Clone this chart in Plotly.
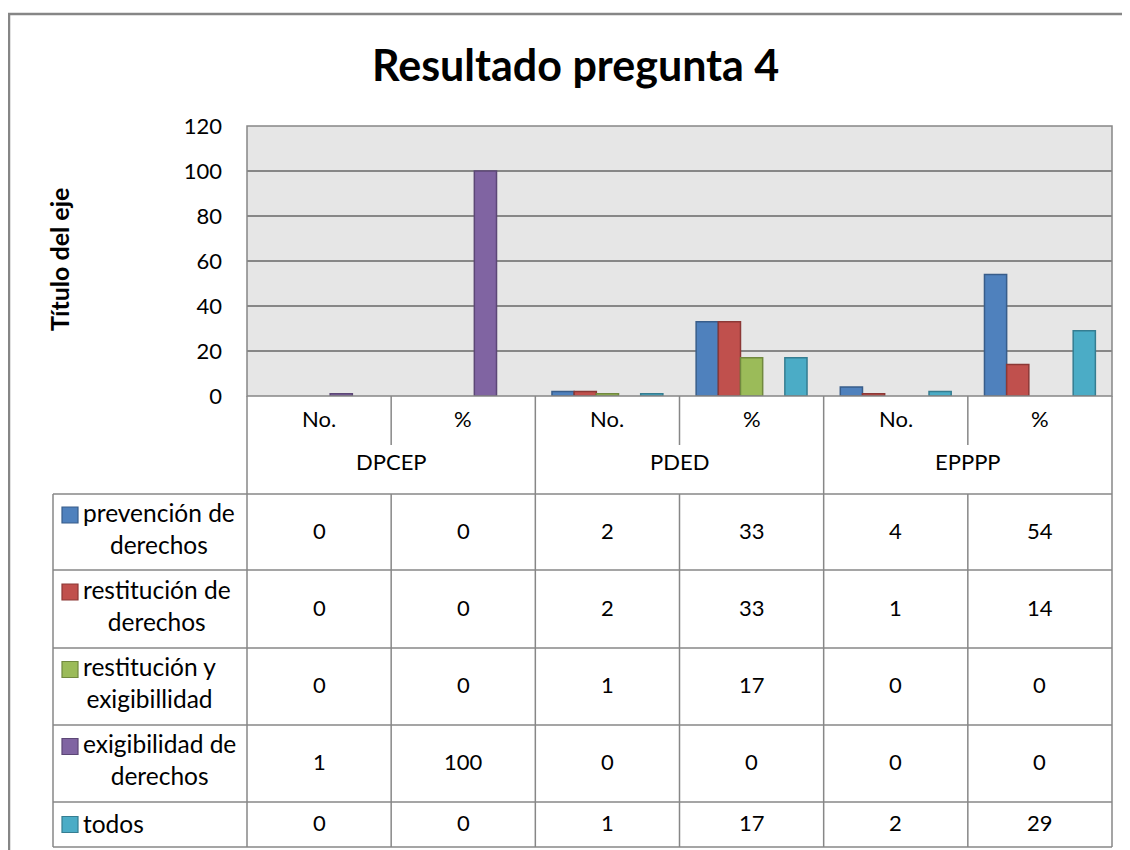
import plotly.graph_objects as go

W, H = 1130, 850

# ---------------- data ----------------
categories = ["No.", "%", "No.", "%", "No.", "%"]
groups = ["DPCEP", "PDED", "EPPPP"]
series_names = ["prevención de derechos", "restitución de derechos",
                "restitución y exigibillidad", "exigibilidad de derechos", "todos"]
label_lines = [["prevención de", "derechos"], ["restitución de", "derechos"],
               ["restitución y", "exigibillidad"], ["exigibilidad de", "derechos"], ["todos"]]
prevencion = [0, 0, 2, 33, 4, 54]
restitucion = [0, 0, 2, 33, 1, 14]
restitucion_exig = [0, 0, 1, 17, 0, 0]
exigibilidad = [1, 100, 0, 0, 0, 0]
todos = [0, 0, 1, 17, 2, 29]
series_values = [prevencion, restitucion, restitucion_exig, exigibilidad, todos]
y_ticks = [0, 20, 40, 60, 80, 100, 120]

fill_colors = ["#4F81BD", "#C0504D", "#9BBB59", "#8064A2", "#4BACC6"]
line_colors = ["#385D8A", "#8C3836", "#71893F", "#5C4776", "#357D91"]

FONT = "Lato"
GRID = "#878787"

# the page body adds an 8px offset; layout positions below are given in screen pixels
OFF = 8


def px(x):
    return (x - OFF) / W


def py(y):
    return 1 - (y - OFF) / H


# plot area (screen pixels)
PL, PR, PT, PB = 247, 1112, 126, 396

fig = go.Figure()
xs = list(range(len(categories)))
for name, vals, fc, lc in zip(series_names, series_values, fill_colors, line_colors):
    fig.add_trace(go.Bar(x=xs, y=vals, name=name,
                         marker=dict(color=fc, line=dict(color=lc, width=[1.5 if v else 0 for v in vals])),
                         showlegend=False))

shapes = []
annotations = []

# outer chart frame
shapes.append(dict(type="rect", xref="paper", yref="paper", x0=px(9), x1=px(1150), y0=py(14), y1=py(870),
                   line=dict(color="#868686", width=2.5), fillcolor="rgba(0,0,0,0)", layer="below"))
# plot area border
shapes.append(dict(type="rect", xref="paper", yref="paper", x0=px(PL), x1=px(PR), y0=py(PT), y1=py(PB),
                   line=dict(color=GRID, width=1.5), fillcolor="rgba(0,0,0,0)"))

n = len(categories)
col_px = [PL + j * (PR - PL) / n for j in range(n + 1)]
row_px = [494, 570, 648, 725, 802, 847]
LEG_L = 53
CAT_BOTTOM = 445


def vline(x, y0, y1):
    shapes.append(dict(type="line", xref="paper", yref="paper", x0=px(x), x1=px(x), y0=py(y0), y1=py(y1),
                       line=dict(color=GRID, width=1.5)))


def hline(y, x0, x1):
    shapes.append(dict(type="line", xref="paper", yref="paper", x0=px(x0), x1=px(x1), y0=py(y), y1=py(y),
                       line=dict(color=GRID, width=1.5)))


def text(x, y, t, size=22, xanchor="center", **kw):
    annotations.append(dict(x=px(x), y=py(y), xref="paper", yref="paper", text=t, showarrow=False,
                            xanchor=xanchor, yanchor="middle",
                            font=dict(family=FONT, size=size, color="#000"), **kw))


# axis category structure
vline(col_px[0], PB, row_px[-1])
vline(col_px[-1], PB, row_px[-1])
for j in range(1, n):
    if j % 2 == 1:
        vline(col_px[j], PB, CAT_BOTTOM)
        vline(col_px[j], row_px[0], row_px[-1])
    else:
        vline(col_px[j], PB, row_px[-1])
vline(LEG_L, row_px[0], row_px[-1])
for r in row_px:
    hline(r, LEG_L, PR)

# category labels
for j, c in enumerate(categories):
    text((col_px[j] + col_px[j + 1]) / 2, 418, c)
for k, g in enumerate(groups):
    text((col_px[2 * k] + col_px[2 * k + 2]) / 2, 462, g)

# data table
for i, (lines, vals, fc, lc) in enumerate(zip(label_lines, series_values, fill_colors, line_colors)):
    top, bot = row_px[i], row_px[i + 1]
    cy = (top + bot) / 2
    for j, v in enumerate(vals):
        text((col_px[j] + col_px[j + 1]) / 2, cy - 2, str(v))
    if len(lines) == 2:
        text(81, cy - 4, "<br>".join(lines), size=24.5, xanchor="left", align="center")
        sq = cy - 17
    else:
        text(81, cy - 1, lines[0], size=24.5, xanchor="left")
        sq = cy
    shapes.append(dict(type="rect", xref="paper", yref="paper", x0=px(62), x1=px(78), y0=py(sq - 8), y1=py(sq + 8),
                       fillcolor=fc, line=dict(color=lc, width=1.2)))

# titles
text(575, 65, "<b>Resultado pregunta 4</b>", size=43)
text(59, 260, "<b>Título del eje</b>", size=25, textangle=-90)

fig.update_layout(
    width=W, height=H, autosize=False,
    margin=dict(l=0, r=0, t=0, b=0, pad=0, autoexpand=False),
    paper_bgcolor="white",
    plot_bgcolor="#E6E6E6",
    barmode="group",
    bargap=1.5 / 6.5,
    bargroupgap=0,
    shapes=shapes,
    annotations=annotations,
    xaxis=dict(domain=[px(PL), px(PR)], range=[-0.5, n - 0.5], showticklabels=False, showgrid=False,
               zeroline=False, showline=False, fixedrange=True, automargin=False),
    yaxis=dict(domain=[py(PB), py(PT)], range=[0, 120], tickvals=y_ticks, ticks="", showline=False,
               gridcolor=GRID, gridwidth=1.5, zeroline=False, ticklabelstandoff=24, automargin=False,
               tickfont=dict(family=FONT, size=22, color="#000")),
)

fig.write_html("out.html")
